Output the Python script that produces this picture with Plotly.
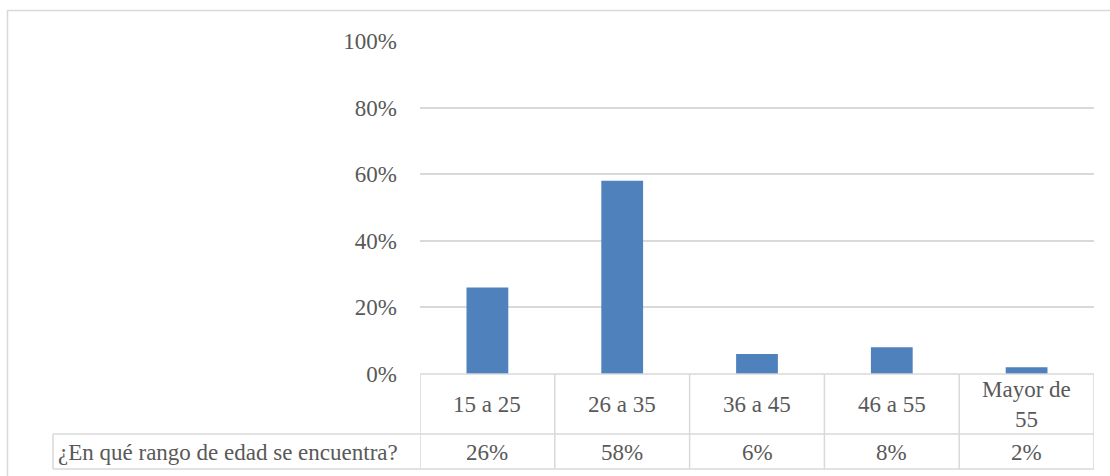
import plotly.graph_objects as go

categories = ["15 a 25", "26 a 35", "36 a 45", "46 a 55", "Mayor de<br>55"]
values = [0.26, 0.58, 0.06, 0.08, 0.02]
value_labels = ["26%", "58%", "6%", "8%", "2%"]
series_name = "¿En qué rango de edad se encuentra?"
y_ticks = [0, 0.2, 0.4, 0.6, 0.8, 1.0]
y_tick_labels = ["0%", "20%", "40%", "60%", "80%", "100%"]

W, H = 1110, 476
FONT = "'Liberation Serif', 'Times New Roman', 'DejaVu Serif', serif"
TXT = "#595959"
GRID = "#D9D9D9"
FS = 23

def px_x(x):
    return x / W

def px_y(y):
    return (H - y) / H

x0p, x1p = 420, 1094
y_top, y_bot = 41, 374
row1_bot = 434
row2_bot = 469
tbl_left = 53

fig = go.Figure()
fig.add_trace(go.Bar(
    x=list(range(len(categories))), y=values, width=0.31,
    marker=dict(color="#4F81BD", line=dict(width=0)),
    name=series_name, showlegend=False,
))

shapes = []
shapes.append(dict(type="rect", xref="paper", yref="paper",
                   x0=px_x(7.5), x1=px_x(1120), y0=px_y(10.5), y1=px_y(490),
                   line=dict(color=GRID, width=1.5), layer="below"))
line = dict(color=GRID, width=1.5)
shapes.append(dict(type="line", xref="paper", yref="paper",
                   x0=px_x(x0p), x1=px_x(x1p), y0=px_y(y_bot), y1=px_y(y_bot), line=line))
for yy in (row1_bot, row2_bot):
    shapes.append(dict(type="line", xref="paper", yref="paper",
                       x0=px_x(tbl_left), x1=px_x(x1p), y0=px_y(yy), y1=px_y(yy), line=line))
shapes.append(dict(type="line", xref="paper", yref="paper",
                   x0=px_x(tbl_left), x1=px_x(tbl_left), y0=px_y(row1_bot), y1=px_y(row2_bot), line=line))
for i in range(len(categories) + 1):
    shapes.append(dict(type="line", xref="x", yref="paper",
                       x0=i - 0.5, x1=i - 0.5, y0=px_y(y_bot), y1=px_y(row2_bot), line=line))

annotations = []
for i, (c, v) in enumerate(zip(categories, value_labels)):
    annotations.append(dict(x=i, xref="x", y=px_y((y_bot + row1_bot) / 2), yref="paper",
                            text=c, showarrow=False, yanchor="middle",
                            font=dict(family=FONT, size=FS, color=TXT)))
    annotations.append(dict(x=i, xref="x", y=px_y((row1_bot + row2_bot) / 2 + 1), yref="paper",
                            text=v, showarrow=False, yanchor="middle",
                            font=dict(family=FONT, size=FS, color=TXT)))
annotations.append(dict(x=px_x(56), xref="paper", y=px_y((row1_bot + row2_bot) / 2 + 1), yref="paper",
                        text=series_name, showarrow=False, xanchor="left", yanchor="middle",
                        font=dict(family=FONT, size=FS, color=TXT)))

fig.update_layout(
    template="none",
    width=W, height=H,
    margin=dict(l=0, r=0, t=0, b=0, pad=0),
    paper_bgcolor="white", plot_bgcolor="white",
    font=dict(family=FONT, size=FS, color=TXT),
    shapes=shapes, annotations=annotations,
    xaxis=dict(domain=[px_x(x0p), px_x(x1p)], range=[-0.5, len(categories) - 0.5],
               showticklabels=False, showgrid=False, zeroline=False, showline=False,
               ticks="", automargin=False),
    yaxis=dict(domain=[px_y(y_bot), px_y(y_top)], range=[0, 1], tickvals=y_ticks,
               ticktext=y_tick_labels, showgrid=True, gridcolor=GRID, gridwidth=1.5,
               zeroline=False, showline=False, ticks="", ticklabelstandoff=22,
               automargin=False,
               tickfont=dict(family=FONT, size=FS, color=TXT)),
)

fig.write_html("out.html")
